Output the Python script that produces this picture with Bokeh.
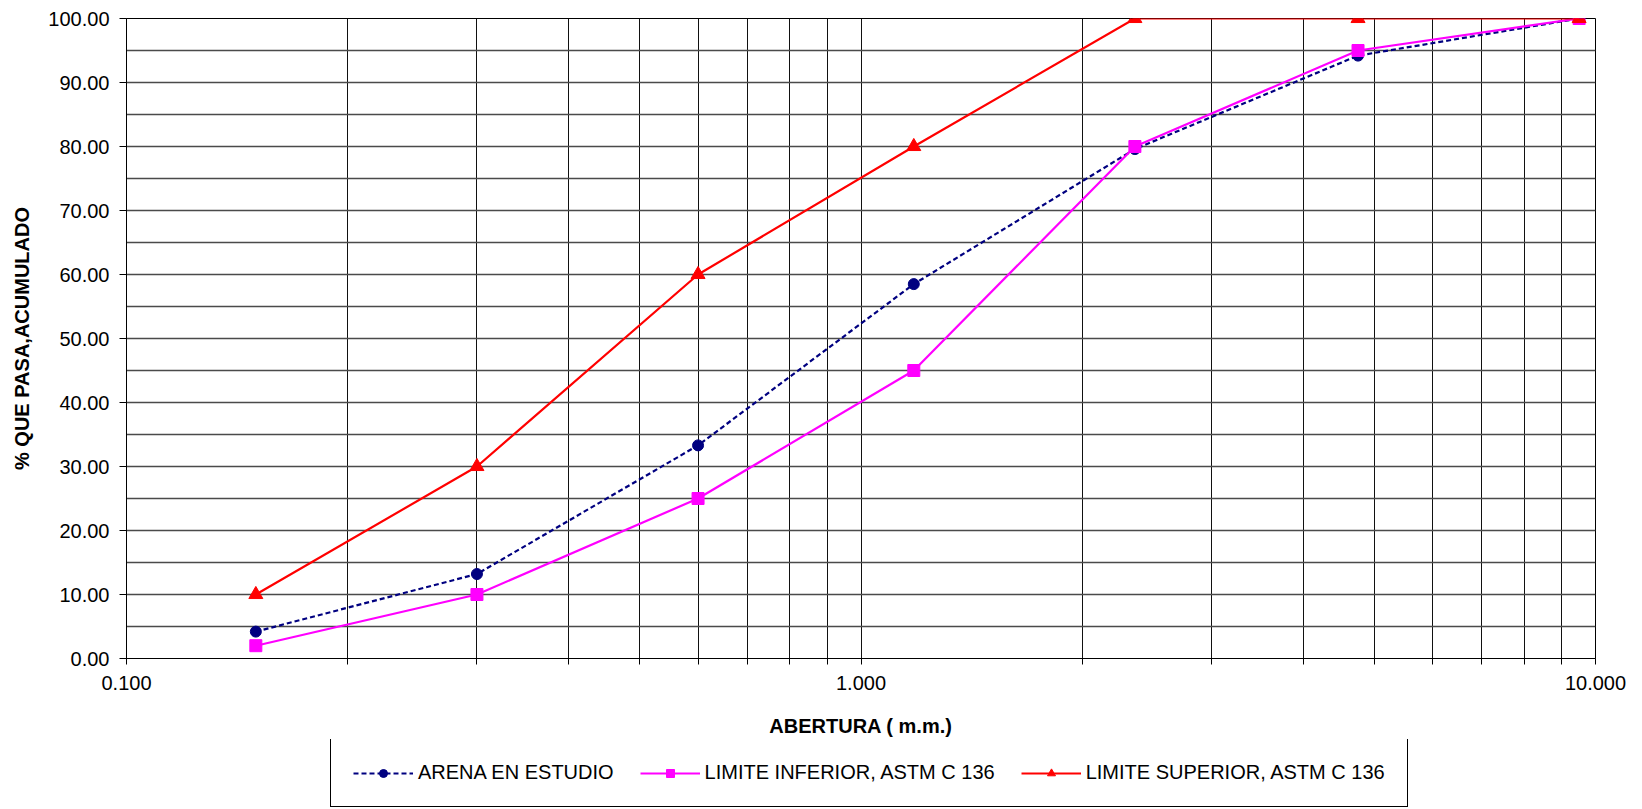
from bokeh.plotting import figure
from bokeh.layouts import column
from bokeh.models import (Range1d, FixedTicker, PrintfTickFormatter, Legend, LegendItem)
from bokeh.embed import file_html
from bokeh.resources import INLINE

# ---- data ----
abertura = [0.15, 0.30, 0.60, 1.18, 2.36, 4.75, 9.50]
arena = [4.2, 13.2, 33.3, 58.5, 79.6, 94.2, 100.0]
lim_inf = [2.0, 10.0, 25.0, 45.0, 80.0, 95.0, 100.0]
lim_sup = [10.0, 30.0, 60.0, 80.0, 100.0, 100.0, 100.0]
series_names = ["ARENA EN ESTUDIO", "LIMITE INFERIOR, ASTM C 136", "LIMITE SUPERIOR, ASTM C 136"]
x_major = [0.1, 1.0, 10.0]
x_minor = [0.2, 0.3, 0.4, 0.5, 0.6, 0.7, 0.8, 0.9, 2, 3, 4, 5, 6, 7, 8, 9]
y_major = list(range(0, 101, 10))
y_grid = list(range(0, 101, 5))

FONT = "Liberation Sans"
styles = [
    dict(color="#000080", dash="5 3", width=2.2, marker="circle", size=11),
    dict(color="#FF00FF", dash="solid", width=2.2, marker="square", size=12),
    dict(color="#FF0000", dash="solid", width=2.2, marker="triangle", size=14),
]

p = figure(frame_width=1469, frame_height=640, x_axis_type="log",
           x_range=Range1d(0.1, 10), y_range=Range1d(0, 100),
           output_backend="svg", toolbar_location=None,
           min_border_left=126, min_border_top=18, min_border_right=47, min_border_bottom=80)
p.background_fill_color = "white"
p.border_fill_color = "white"
p.outline_line_color = "black"
p.outline_line_width = 1

# grids
p.xgrid.ticker = FixedTicker(ticks=x_major + x_minor)
p.xgrid.grid_line_color = "#111111"
p.xgrid.grid_line_width = 1
p.ygrid.ticker = FixedTicker(ticks=y_grid)
p.ygrid.grid_line_color = "#4a4a4a"
p.ygrid.grid_line_width = 1.4

# x axis
xa = p.xaxis[0]
xa.ticker = FixedTicker(ticks=x_major, minor_ticks=x_minor)
xa.formatter = PrintfTickFormatter(format="%.3f")
xa.axis_label = "ABERTURA ( m.m.)"
xa.axis_label_text_font = FONT
xa.axis_label_text_font_style = "bold"
xa.axis_label_text_font_size = "20px"
xa.axis_label_text_color = "black"
xa.axis_label_standoff = 22
xa.major_label_text_font = FONT
xa.major_label_text_font_size = "20px"
xa.major_label_text_color = "black"
xa.major_label_standoff = 11
xa.major_tick_in = 0
xa.major_tick_out = 6
xa.minor_tick_in = 0
xa.minor_tick_out = 6
xa.axis_line_color = "black"
xa.major_tick_line_color = "black"
xa.minor_tick_line_color = "black"

# y axis
ya = p.yaxis[0]
ya.ticker = FixedTicker(ticks=y_major)
ya.formatter = PrintfTickFormatter(format="%.2f")
ya.axis_label = "% QUE PASA,ACUMULADO"
ya.axis_label_text_font = FONT
ya.axis_label_text_font_style = "bold"
ya.axis_label_text_font_size = "20px"
ya.axis_label_text_color = "black"
ya.axis_label_standoff = 12
ya.major_label_text_font = FONT
ya.major_label_text_font_size = "20px"
ya.major_label_text_color = "black"
ya.major_label_standoff = 10
ya.major_tick_in = 0
ya.major_tick_out = 7
ya.minor_tick_line_color = None
ya.axis_line_color = "black"
ya.major_tick_line_color = "black"

# series
series = [arena, lim_inf, lim_sup]
for ys, st in zip(series, styles):
    p.line(abertura, ys, line_color=st["color"], line_width=st["width"], line_dash=st["dash"])
    p.scatter(abertura, ys, marker=st["marker"], size=st["size"],
              fill_color=st["color"], line_color=st["color"])

# legend strip (separate figure so the legend is not clipped by the plot frame);
# its renderers hold the same series but lie outside the strip's visible y range
lg = figure(width=1642, height=70, x_axis_type="log",
            x_range=Range1d(0.1, 10), y_range=Range1d(-2, -1),
            output_backend="svg", toolbar_location=None,
            x_axis_location=None, y_axis_location=None,
            min_border=0, min_border_left=0, min_border_right=0, min_border_top=0, min_border_bottom=0)
lg.grid.visible = False
lg.outline_line_color = None
lg.background_fill_color = "white"
lg.border_fill_color = "white"

items = []
for name, ys, st in zip(series_names, series, styles):
    r1 = lg.line(abertura, ys, line_color=st["color"], line_width=st["width"], line_dash=st["dash"])
    r2 = lg.scatter(abertura, ys, marker=st["marker"], size=st["size"] - 1,
                    fill_color=st["color"], line_color=st["color"])
    items.append(LegendItem(label=name, renderers=[r1, r2]))

legend = Legend(items=items, orientation="horizontal", location=(204, 2),
    border_line_color="black", border_line_width=1, border_line_alpha=1,
    background_fill_color="white", background_fill_alpha=1,
    padding=22, spacing=26, margin=0, glyph_width=60, glyph_height=20,
    label_standoff=5, label_text_font=FONT, label_text_font_size="20px",
    label_text_color="black")
lg.add_layout(legend, "center")

layout = column(p, lg, spacing=0)
open("out.html", "w").write(file_html(layout, INLINE))
